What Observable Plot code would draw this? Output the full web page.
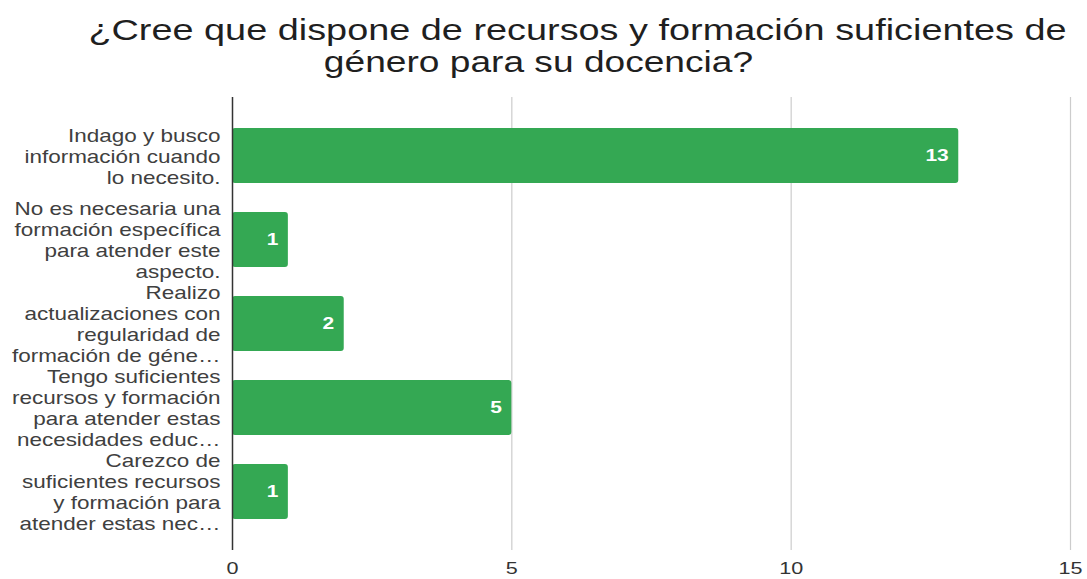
<!DOCTYPE html>
<html>
<head>
<meta charset="utf-8">
<script src="https://cdn.jsdelivr.net/npm/d3@7"></script>
<script src="https://cdn.jsdelivr.net/npm/@observablehq/plot@0.6"></script>
<style>
  html, body { margin: 0; padding: 0; background: #fff; }
  body { width: 1087px; height: 579px; overflow: hidden; font-family: "Liberation Sans", Arial, sans-serif; }
  #title { height: 85px; position: relative; color: #1f1f1f; }
  #title div { position: absolute; left: 0; width: 1087px; text-align: center; font-size: 29px; line-height: 32px; white-space: nowrap; }
  #t1 { top: 14px; transform: translateX(34px) scaleX(1.305); }
  #t2 { top: 46px; transform: translateX(-5px) scaleX(1.28); }
</style>
</head>
<body>
<div id="title">
  <div id="t1">¿Cree que dispone de recursos y formación suficientes de</div>
  <div id="t2">género para su docencia?</div>
</div>
<div id="chart"></div>
<script>
const categories = [
  "Indago y busco\ninformación cuando\nlo necesito.",
  "No es necesaria una\nformación específica\npara atender este\naspecto.",
  "Realizo\nactualizaciones con\nregularidad de\nformación de géne…",
  "Tengo suficientes\nrecursos y formación\npara atender estas\nnecesidades educ…",
  "Carezco de\nsuficientes recursos\ny formación para\natender estas nec…"
];
const values = [13, 1, 2, 5, 1];
const xTicks = [0, 5, 10, 15];
const gridTicks = [5, 10, 15];

const data = categories.map((c, i) => ({category: c, value: values[i]}));

const chart = Plot.plot({
  width: 1087,
  height: 494,
  marginTop: 12,
  marginBottom: 29,
  marginLeft: 232,
  marginRight: 17,
  style: {fontFamily: "'Liberation Sans', Arial, sans-serif", background: "#fff"},
  x: {domain: [0, 15], ticks: xTicks},
  y: {domain: categories, padding: 0.35},
  marks: [
    Plot.ruleX(gridTicks, {stroke: "#cccccc", strokeWidth: 1.2}),
    Plot.barX(data, {x: "value", y: "category", fill: "#34a853", rx: 3}),
    Plot.ruleX([0], {stroke: "#333333", strokeWidth: 1.5}),
    Plot.text(data, {x: "value", y: "category", text: d => String(d.value), textAnchor: "end", dx: -10, fill: "#ffffff", fontSize: 16.5, fontWeight: 600}),
    Plot.axisY({tickSize: 0, tickPadding: 12, fontSize: 17.7, lineHeight: 1.19, fill: "#404040", label: null}),
    Plot.axisX({ticks: xTicks, tickSize: 0, tickPadding: 11, fontSize: 17, fill: "#333333", label: null})
  ]
});
document.getElementById("chart").appendChild(chart);

// Source image is horizontally stretched; widen glyphs around each text anchor.
chart.querySelectorAll("text").forEach(t => {
  const tr = t.getAttribute("transform");
  if (tr) t.setAttribute("transform", tr + " scale(1.27,1)");
});
</script>
</body>
</html>
